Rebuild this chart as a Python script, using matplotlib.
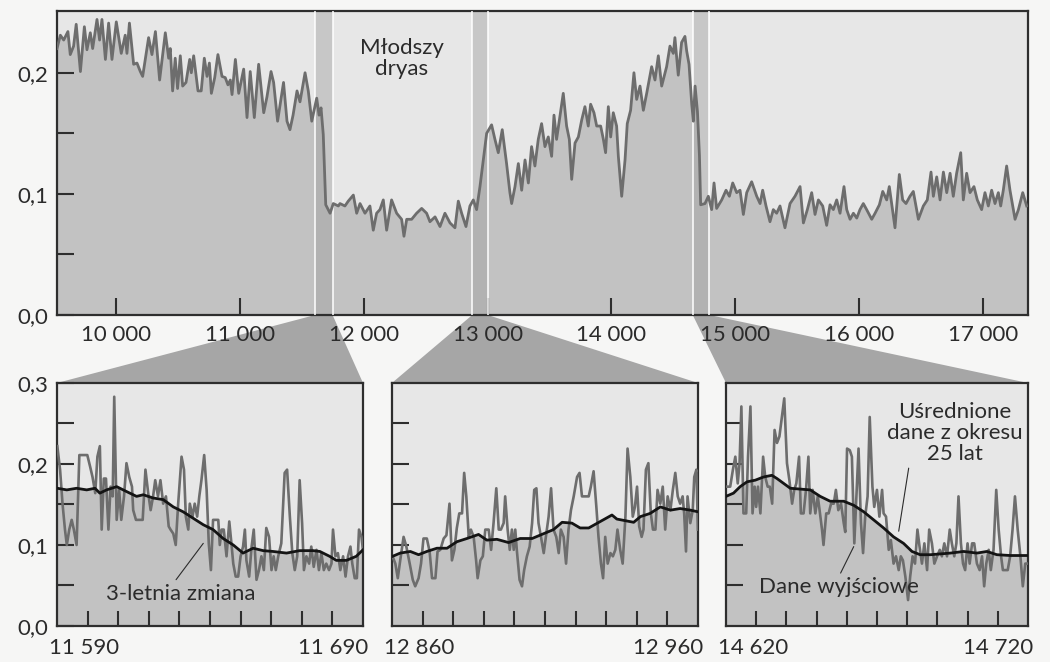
import numpy as np
import matplotlib.pyplot as plt
from matplotlib.patches import Polygon

plt.rcParams['font.family'] = ['Lato', 'DejaVu Sans']

# --- long record (years BP, dust index) ---
top_years = [9521, 9548, 9575, 9609, 9628, 9655, 9676, 9710, 9742, 9763, 9790, 9809,
             9844, 9865, 9884, 9912, 9938, 9965, 10000, 10040, 10072, 10086, 10106, 10140,
             10167, 10194, 10213, 10261, 10288, 10316, 10350, 10396, 10423, 10436, 10455, 10476,
             10495, 10517, 10536, 10563, 10593, 10606, 10625, 10660, 10686, 10711, 10733, 10752,
             10768, 10795, 10821, 10854, 10880, 10902, 10921, 10935, 10962, 10989, 11029, 11056,
             11082, 11115, 11150, 11191, 11217, 11250, 11271, 11303, 11351, 11379, 11403, 11428,
             11460, 11484, 11525, 11551, 11579, 11619, 11638, 11654, 11672, 11692, 11727, 11753,
             11794, 11807, 11847, 11874, 11915, 11942, 11969, 12009, 12049, 12076, 12103, 12130,
             12157, 12184, 12224, 12265, 12305, 12324, 12346, 12386, 12426, 12467, 12507, 12534,
             12575, 12615, 12655, 12696, 12736, 12763, 12790, 12825, 12857, 12884, 12911, 12938,
             12965, 12992, 13032, 13059, 13086, 13118, 13153, 13180, 13194, 13221, 13248, 13275,
             13302, 13329, 13355, 13382, 13409, 13436, 13463, 13490, 13517, 13536, 13557, 13584,
             13611, 13638, 13660, 13679, 13706, 13733, 13760, 13786, 13813, 13832, 13859, 13881,
             13913, 13935, 13953, 13975, 13994, 14015, 14042, 14056, 14083, 14110, 14128, 14155,
             14182, 14204, 14231, 14258, 14285, 14325, 14352, 14379, 14406, 14446, 14473, 14500,
             14513, 14540, 14567, 14594, 14608, 14627, 14649, 14662, 14676, 14695, 14711, 14721,
             14756, 14783, 14810, 14829, 14850, 14891, 14926, 14953, 14980, 15012, 15039, 15066,
             15093, 15133, 15174, 15201, 15222, 15249, 15281, 15308, 15335, 15362, 15402, 15443,
             15483, 15524, 15551, 15583, 15618, 15645, 15672, 15707, 15739, 15766, 15793, 15820,
             15847, 15879, 15901, 15928, 15955, 15982, 16008, 16035, 16062, 16103, 16130, 16165,
             16192, 16224, 16245, 16264, 16291, 16326, 16353, 16380, 16412, 16439, 16480, 16520,
             16552, 16582, 16601, 16628, 16655, 16682, 16709, 16736, 16762, 16789, 16822, 16843,
             16870, 16897, 16929, 16956, 16991, 17018, 17045, 17072, 17099, 17126, 17145, 17166,
             17193, 17220, 17261, 17288, 17323, 17355]
top_vals = [0.220, 0.231, 0.227, 0.234, 0.215, 0.222, 0.240, 0.201, 0.238, 0.219, 0.233, 0.220,
            0.244, 0.227, 0.244, 0.211, 0.241, 0.211, 0.242, 0.216, 0.231, 0.216, 0.241, 0.207,
            0.208, 0.201, 0.197, 0.229, 0.215, 0.234, 0.194, 0.233, 0.212, 0.220, 0.185, 0.212,
            0.187, 0.214, 0.189, 0.192, 0.211, 0.200, 0.214, 0.185, 0.185, 0.212, 0.197, 0.208,
            0.183, 0.196, 0.215, 0.197, 0.196, 0.190, 0.194, 0.182, 0.211, 0.183, 0.203, 0.163,
            0.201, 0.163, 0.207, 0.167, 0.180, 0.201, 0.192, 0.160, 0.192, 0.160, 0.153, 0.165,
            0.185, 0.176, 0.200, 0.185, 0.160, 0.179, 0.165, 0.171, 0.149, 0.091, 0.084, 0.092,
            0.090, 0.092, 0.090, 0.094, 0.099, 0.084, 0.092, 0.084, 0.090, 0.070, 0.084, 0.087,
            0.095, 0.070, 0.095, 0.084, 0.079, 0.065, 0.079, 0.079, 0.084, 0.088, 0.084, 0.077,
            0.081, 0.073, 0.084, 0.076, 0.072, 0.094, 0.084, 0.073, 0.090, 0.095, 0.087, 0.106,
            0.128, 0.150, 0.157, 0.145, 0.134, 0.153, 0.125, 0.101, 0.092, 0.106, 0.125, 0.103,
            0.128, 0.109, 0.139, 0.123, 0.145, 0.158, 0.139, 0.147, 0.131, 0.165, 0.145, 0.164,
            0.183, 0.156, 0.145, 0.112, 0.142, 0.147, 0.161, 0.172, 0.156, 0.174, 0.167, 0.156,
            0.156, 0.145, 0.134, 0.172, 0.147, 0.167, 0.156, 0.131, 0.098, 0.128, 0.158, 0.169,
            0.200, 0.178, 0.189, 0.169, 0.183, 0.205, 0.194, 0.214, 0.189, 0.205, 0.222, 0.216,
            0.229, 0.198, 0.225, 0.230, 0.218, 0.207, 0.174, 0.160, 0.189, 0.168, 0.132, 0.091,
            0.092, 0.098, 0.087, 0.109, 0.088, 0.095, 0.103, 0.098, 0.109, 0.101, 0.103, 0.083,
            0.101, 0.110, 0.098, 0.092, 0.103, 0.090, 0.077, 0.087, 0.084, 0.090, 0.072, 0.092,
            0.098, 0.106, 0.076, 0.087, 0.101, 0.083, 0.095, 0.090, 0.074, 0.091, 0.087, 0.095,
            0.084, 0.106, 0.087, 0.079, 0.084, 0.080, 0.087, 0.092, 0.087, 0.079, 0.084, 0.091,
            0.102, 0.095, 0.106, 0.092, 0.072, 0.116, 0.095, 0.092, 0.098, 0.102, 0.079, 0.090,
            0.095, 0.118, 0.098, 0.114, 0.095, 0.118, 0.101, 0.117, 0.098, 0.117, 0.134, 0.095,
            0.117, 0.101, 0.106, 0.095, 0.087, 0.101, 0.090, 0.103, 0.092, 0.101, 0.090, 0.103,
            0.123, 0.103, 0.079, 0.087, 0.101, 0.090]

# highlighted intervals on the long record
band_lo = [11607, 12876, 14657]
band_hi = [11747, 13000, 14791]

# --- annual detail: three 100-year windows ---
win_lo = [11590, 12860, 14620]
win_hi = [11690, 12960, 14720]

raw1_years = [11590.1, 11591.0, 11591.8, 11592.6, 11593.2, 11594.0, 11594.8, 11595.5, 11596.4,
              11597.3, 11598.6, 11599.9, 11600.8, 11601.6, 11602.5, 11603.2, 11604.0, 11604.6,
              11605.3, 11606.0, 11606.8, 11607.5, 11608.2, 11608.7, 11609.5, 11610.3, 11611.0,
              11611.9, 11612.7, 11613.6, 11614.5, 11614.9, 11615.8, 11616.9, 11618.0, 11618.9,
              11619.8, 11620.6, 11621.4, 11622.1, 11623.0, 11623.8, 11624.7, 11625.6, 11626.5,
              11627.1, 11628.0, 11628.8, 11629.6, 11630.7, 11631.5, 11632.1, 11632.9, 11633.4,
              11634.3, 11635.0, 11635.8, 11636.5, 11637.2, 11638.1, 11638.9, 11639.6, 11640.3,
              11641.0, 11641.9, 11642.7, 11643.2, 11643.8, 11644.5, 11645.4, 11646.3, 11647.0,
              11647.6, 11648.4, 11649.2, 11650.0, 11650.8, 11651.4, 11651.9, 11652.8, 11653.6,
              11654.3, 11655.2, 11656.0, 11656.8, 11657.6, 11658.4, 11659.3, 11660.1, 11660.8,
              11661.5, 11662.3, 11663.3, 11664.4, 11665.2, 11666.1, 11666.9, 11667.7, 11668.5,
              11669.3, 11670.1, 11670.7, 11671.5, 11672.4, 11673.1, 11673.9, 11674.8, 11675.6,
              11676.4, 11677.2, 11678.0, 11678.9, 11679.7, 11680.2, 11681.0, 11681.8, 11682.6,
              11683.5, 11684.3, 11685.1, 11685.9, 11686.5, 11687.3, 11688.0, 11688.7, 11689.5,
              11690.0]
raw1_vals = [0.222, 0.193, 0.151, 0.119, 0.100, 0.119, 0.131, 0.119, 0.100,
             0.211, 0.211, 0.211, 0.197, 0.184, 0.164, 0.209, 0.222, 0.119,
             0.182, 0.182, 0.119, 0.172, 0.160, 0.283, 0.131, 0.168, 0.131,
             0.160, 0.201, 0.184, 0.172, 0.143, 0.131, 0.131, 0.131, 0.193,
             0.164, 0.143, 0.160, 0.180, 0.160, 0.180, 0.151, 0.160, 0.123,
             0.119, 0.114, 0.100, 0.151, 0.209, 0.193, 0.135, 0.119, 0.151,
             0.135, 0.151, 0.135, 0.160, 0.180, 0.211, 0.168, 0.102, 0.069,
             0.131, 0.131, 0.131, 0.100, 0.119, 0.119, 0.086, 0.129, 0.102,
             0.077, 0.061, 0.061, 0.086, 0.098, 0.119, 0.081, 0.061, 0.098,
             0.119, 0.057, 0.069, 0.086, 0.069, 0.121, 0.110, 0.069, 0.086,
             0.069, 0.086, 0.102, 0.189, 0.193, 0.135, 0.090, 0.069, 0.086,
             0.180, 0.127, 0.069, 0.086, 0.077, 0.098, 0.073, 0.094, 0.069,
             0.090, 0.069, 0.077, 0.069, 0.077, 0.119, 0.086, 0.090, 0.069,
             0.086, 0.061, 0.086, 0.098, 0.077, 0.059, 0.059, 0.119, 0.110,
             0.094]
avg1_years = [11590.1, 11593.2, 11596.4, 11599.7, 11602.4, 11604.0, 11606.2, 11609.5, 11612.7,
              11616.0, 11618.2, 11621.4, 11624.7, 11628.0, 11631.2, 11634.5, 11637.8, 11641.0,
              11644.3, 11647.6, 11650.8, 11654.1, 11657.4, 11660.6, 11665.0, 11669.3, 11673.7,
              11675.9, 11679.1, 11681.3, 11684.6, 11687.8, 11690.0]
avg1_vals = [0.170, 0.168, 0.170, 0.168, 0.170, 0.164, 0.168, 0.172, 0.166,
             0.160, 0.162, 0.158, 0.156, 0.147, 0.141, 0.133, 0.125, 0.119,
             0.108, 0.100, 0.090, 0.096, 0.093, 0.092, 0.090, 0.093, 0.093,
             0.092, 0.086, 0.081, 0.081, 0.086, 0.094]

raw2_years = [12860.2, 12861.1, 12861.9, 12862.7, 12863.8, 12864.7, 12865.8, 12866.8, 12867.6,
              12868.7, 12869.5, 12870.3, 12871.4, 12872.3, 12873.1, 12874.2, 12874.9, 12875.8,
              12876.9, 12877.8, 12878.8, 12879.6, 12880.4, 12881.2, 12882.0, 12882.9, 12883.6,
              12884.3, 12885.1, 12885.8, 12886.7, 12887.5, 12888.0, 12888.9, 12889.7, 12890.5,
              12891.6, 12892.4, 12893.2, 12894.1, 12894.9, 12895.6, 12896.5, 12897.0, 12897.8,
              12898.5, 12899.2, 12899.8, 12900.3, 12900.8, 12901.7, 12902.5, 12903.2, 12904.1,
              12905.0, 12905.8, 12906.5, 12907.2, 12907.9, 12908.7, 12909.6, 12910.3, 12911.2,
              12912.0, 12912.8, 12913.7, 12914.5, 12915.2, 12916.1, 12916.9, 12917.7, 12918.5,
              12919.4, 12920.5, 12921.3, 12922.1, 12923.2, 12924.3, 12925.0, 12925.9, 12926.8,
              12927.5, 12928.3, 12929.0, 12929.7, 12930.5, 12931.4, 12932.2, 12933.0, 12933.7,
              12934.6, 12935.4, 12936.3, 12937.0, 12937.9, 12938.7, 12939.4, 12940.1, 12940.8,
              12941.6, 12942.2, 12943.0, 12943.8, 12944.6, 12945.3, 12946.1, 12946.8, 12947.7,
              12948.5, 12949.3, 12950.1, 12951.0, 12951.8, 12952.6, 12953.4, 12954.2, 12955.0,
              12955.5, 12956.1, 12956.6, 12957.5, 12958.3, 12958.8, 12959.5, 12960.0]
raw2_vals = [0.086, 0.077, 0.059, 0.081, 0.110, 0.098, 0.077, 0.057, 0.049,
             0.059, 0.077, 0.108, 0.108, 0.092, 0.059, 0.059, 0.092, 0.094,
             0.108, 0.112, 0.151, 0.081, 0.094, 0.121, 0.139, 0.139, 0.189,
             0.160, 0.110, 0.119, 0.110, 0.081, 0.059, 0.081, 0.086, 0.119,
             0.119, 0.094, 0.127, 0.170, 0.119, 0.119, 0.127, 0.160, 0.119,
             0.094, 0.119, 0.094, 0.119, 0.094, 0.057, 0.049, 0.069, 0.086,
             0.098, 0.127, 0.168, 0.170, 0.127, 0.110, 0.090, 0.110, 0.135,
             0.170, 0.119, 0.110, 0.090, 0.119, 0.110, 0.077, 0.119, 0.143,
             0.160, 0.184, 0.189, 0.160, 0.160, 0.160, 0.172, 0.191, 0.147,
             0.110, 0.077, 0.059, 0.110, 0.077, 0.090, 0.086, 0.094, 0.119,
             0.094, 0.077, 0.135, 0.219, 0.184, 0.135, 0.147, 0.172, 0.123,
             0.110, 0.119, 0.193, 0.201, 0.139, 0.119, 0.119, 0.168, 0.151,
             0.172, 0.119, 0.160, 0.143, 0.168, 0.189, 0.160, 0.151, 0.160,
             0.139, 0.092, 0.160, 0.127, 0.143, 0.184, 0.193, 0.119]
avg2_years = [12860.2, 12862.7, 12866.0, 12868.7, 12871.4, 12874.7, 12878.0, 12881.2, 12884.5,
              12888.3, 12891.0, 12894.3, 12898.1, 12901.9, 12905.8, 12909.6, 12912.8, 12915.6,
              12918.8, 12921.5, 12924.3, 12928.1, 12931.9, 12933.5, 12939.0, 12941.2, 12944.4,
              12947.7, 12951.0, 12954.2, 12957.5, 12960.0]
avg2_vals = [0.086, 0.090, 0.092, 0.088, 0.092, 0.096, 0.096, 0.104, 0.108,
             0.113, 0.106, 0.107, 0.103, 0.108, 0.108, 0.114, 0.119, 0.128,
             0.127, 0.121, 0.121, 0.129, 0.137, 0.132, 0.128, 0.135, 0.139,
             0.147, 0.143, 0.145, 0.143, 0.141]

raw3_years = [14620.3, 14621.4, 14622.3, 14623.1, 14623.9, 14624.5, 14625.1, 14625.8, 14626.7,
              14627.3, 14628.1, 14628.8, 14629.5, 14630.0, 14630.6, 14631.4, 14632.3, 14633.0,
              14633.8, 14634.5, 14635.3, 14636.1, 14636.9, 14637.7, 14638.5, 14639.3, 14640.2,
              14641.0, 14641.9, 14642.6, 14643.3, 14644.2, 14644.8, 14645.7, 14646.5, 14647.3,
              14647.9, 14648.7, 14649.6, 14650.4, 14651.0, 14651.8, 14652.3, 14653.2, 14654.0,
              14654.8, 14655.7, 14656.4, 14657.2, 14658.1, 14659.0, 14659.5, 14660.1, 14661.0,
              14661.7, 14662.5, 14663.2, 14663.9, 14664.7, 14665.4, 14666.1, 14666.9, 14667.6,
              14668.5, 14669.1, 14670.0, 14670.8, 14671.7, 14672.2, 14673.0, 14673.9, 14674.6,
              14675.5, 14676.3, 14677.2, 14677.9, 14678.6, 14679.4, 14680.3, 14681.0, 14681.8,
              14682.6, 14683.4, 14684.1, 14684.9, 14685.7, 14686.6, 14687.3, 14688.2, 14689.0,
              14689.9, 14690.8, 14691.5, 14692.3, 14693.2, 14694.1, 14694.8, 14695.6, 14696.3,
              14697.0, 14697.8, 14698.5, 14699.2, 14700.0, 14700.7, 14701.5, 14702.2, 14703.1,
              14704.0, 14704.8, 14705.5, 14706.2, 14707.0, 14707.7, 14708.6, 14709.5, 14710.3,
              14711.1, 14711.7, 14712.5, 14713.3, 14714.1, 14714.9, 14715.7, 14716.6, 14717.5,
              14718.3, 14719.1, 14720.0]
raw3_vals = [0.172, 0.172, 0.193, 0.209, 0.176, 0.201, 0.271, 0.139, 0.139,
             0.209, 0.271, 0.139, 0.172, 0.147, 0.172, 0.139, 0.209, 0.184,
             0.172, 0.172, 0.151, 0.242, 0.226, 0.234, 0.258, 0.281, 0.201,
             0.180, 0.151, 0.168, 0.176, 0.209, 0.139, 0.139, 0.168, 0.209,
             0.139, 0.168, 0.139, 0.160, 0.143, 0.119, 0.100, 0.139, 0.139,
             0.151, 0.151, 0.168, 0.143, 0.151, 0.127, 0.116, 0.219, 0.217,
             0.209, 0.102, 0.160, 0.219, 0.127, 0.090, 0.135, 0.160, 0.258,
             0.172, 0.147, 0.168, 0.135, 0.168, 0.139, 0.135, 0.094, 0.106,
             0.077, 0.086, 0.069, 0.086, 0.081, 0.061, 0.032, 0.061, 0.086,
             0.077, 0.119, 0.098, 0.077, 0.102, 0.069, 0.119, 0.102, 0.077,
             0.086, 0.094, 0.086, 0.102, 0.086, 0.119, 0.102, 0.086, 0.102,
             0.160, 0.102, 0.077, 0.069, 0.102, 0.077, 0.102, 0.102, 0.077,
             0.069, 0.086, 0.049, 0.077, 0.094, 0.069, 0.094, 0.168, 0.119,
             0.086, 0.069, 0.069, 0.069, 0.086, 0.119, 0.160, 0.119, 0.086,
             0.049, 0.077, 0.077]
avg3_years = [14620.0, 14622.5, 14624.7, 14627.0, 14629.7, 14632.5, 14635.2, 14636.9, 14639.1,
              14641.3, 14644.6, 14647.9, 14651.2, 14654.5, 14659.0, 14662.3, 14665.6, 14668.9,
              14672.2, 14675.5, 14678.8, 14681.6, 14684.3, 14687.7, 14691.0, 14694.3, 14698.7,
              14703.1, 14706.4, 14709.7, 14714.1, 14720.0]
avg3_vals = [0.160, 0.164, 0.172, 0.178, 0.180, 0.184, 0.186, 0.182, 0.176,
             0.170, 0.169, 0.168, 0.160, 0.154, 0.154, 0.149, 0.141, 0.131,
             0.121, 0.110, 0.102, 0.092, 0.088, 0.088, 0.089, 0.090, 0.092,
             0.090, 0.092, 0.088, 0.087, 0.087]

raw_series = [(raw1_years, raw1_vals), (raw2_years, raw2_vals), (raw3_years, raw3_vals)]
avg_series = [(avg1_years, avg1_vals), (avg2_years, avg2_vals), (avg3_years, avg3_vals)]

top_ticks = [10000, 11000, 12000, 13000, 14000, 15000, 16000, 17000]
top_ticklabels = ['10 000', '11 000', '12 000', '13 000', '14 000', '15 000', '16 000', '17 000']

# colours
PAGE = '#f6f6f5'
PANEL = '#e7e7e7'
FILL = '#c2c2c2'
RAW = '#6d6d6d'
AVG = '#141414'
EDGE = '#2e2e2e'
WEDGE = '#a6a6a6'
INK = '#2b2b2b'
FS = 16


def frame(ax):
    ax.set_facecolor(PANEL)
    for s in ax.spines.values():
        s.set_color(EDGE)
        s.set_linewidth(1.6)
    ax.tick_params(which='both', direction='in', color=EDGE, width=1.5,
                   length=12, labelsize=FS, labelcolor=INK)


def fmt_year(y):
    return '{} {:03d}'.format(y // 1000, y % 1000)


fig = plt.figure(figsize=(10.5, 6.62), dpi=100, facecolor=PAGE)

# ---- upper panel: full record ----
top = fig.add_axes([0.0543, 0.5242, 0.9248, 0.4592])
frame(top)
top.fill_between(top_years, top_vals, 0, color=FILL, lw=0, zorder=1)
for lo, hi in zip(band_lo, band_hi):
    top.axvspan(lo, hi, color='#a0a0a0', alpha=0.45, lw=0, zorder=2)
    top.axvline(lo, color='white', lw=1.1, zorder=3)
    top.axvline(hi, color='white', lw=1.1, zorder=3)
top.plot(top_years, top_vals, color=RAW, lw=2.0, zorder=4, solid_joinstyle='round')
top.set_xlim(9521, 17366)
top.set_ylim(0, 0.251)
top.set_xticks(top_ticks)
top.set_xticklabels(top_ticklabels)
top.set_yticks([0, 0.1, 0.2])
top.set_yticklabels(['0,0', '0,1', '0,2'])
top.set_yticks([0.05, 0.15], minor=True)
top.tick_params(axis='x', pad=7)
top.tick_params(axis='y', pad=6)
top.text(12308, 0.212, 'Młodszy\ndryas', ha='center', va='center', fontsize=FS,
         linespacing=1.05, color=INK, zorder=5)

# ---- lower panels: annual detail ----
lefts = [0.0543, 0.3733, 0.6914]
widths = [0.2914, 0.2914, 0.2876]
bottoms = []
for i in range(3):
    ax = fig.add_axes([lefts[i], 0.0544, widths[i], 0.3671])
    frame(ax)
    ry, rv = raw_series[i]
    ay, av = avg_series[i]
    ax.fill_between(ay, av, 0, color=FILL, lw=0, zorder=1)
    ax.plot(ry, rv, color=RAW, lw=1.9, zorder=3, solid_joinstyle='round')
    ax.plot(ay, av, color=AVG, lw=2.0, zorder=4)
    ax.set_xlim(win_lo[i], win_hi[i])
    ax.set_ylim(0, 0.3)
    ax.set_xticks([])
    ax.set_xticks(np.arange(win_lo[i] + 10, win_hi[i], 10), minor=True)
    ax.tick_params(axis='x', which='minor', length=11)
    ax.set_yticks([0.05, 0.15, 0.25], minor=True)
    if i == 0:
        ax.set_yticks([0, 0.1, 0.2, 0.3])
        ax.set_yticklabels(['0,0', '0,1', '0,2', '0,3'])
        ax.tick_params(axis='y', pad=6)
    else:
        ax.set_yticks([0.1, 0.2])
        ax.set_yticklabels([])
    ax.annotate(fmt_year(win_lo[i]), xy=(win_lo[i], 0), xycoords=('data', 'axes fraction'),
                xytext=(-6, -9), textcoords='offset points', ha='left', va='top',
                fontsize=FS, color=INK)
    ax.annotate(fmt_year(win_hi[i]), xy=(win_hi[i], 0), xycoords=('data', 'axes fraction'),
                xytext=(4, -9), textcoords='offset points', ha='right', va='top',
                fontsize=FS, color=INK)
    bottoms.append(ax)

# connectors from the marked bands down to the detail panels
inv = fig.transFigure.inverted()
for lo, hi, ax in zip(band_lo, band_hi, bottoms):
    p_lo = inv.transform(top.transData.transform((lo, 0)))
    p_hi = inv.transform(top.transData.transform((hi, 0)))
    bb = ax.get_position()
    wedge = Polygon([p_lo, p_hi, (bb.x1, bb.y1), (bb.x0, bb.y1)], closed=True,
                    transform=fig.transFigure, facecolor=WEDGE, edgecolor='none', zorder=-1)
    fig.add_artist(wedge)

leader = dict(arrowstyle='-', color=INK, lw=0.8, shrinkA=1, shrinkB=0)
bottoms[0].annotate('3-letnia zmiana', xy=(11637.8, 0.102), xytext=(11630.4, 0.040),
                    ha='center', va='center', fontsize=FS, color=INK, zorder=6,
                    arrowprops=dict(leader, relpos=(0.45, 1.0)))
bottoms[2].annotate('Uśrednione\ndane z okresu\n25 lat', xy=(14677.2, 0.117),
                    xytext=(14695.9, 0.238), ha='center', va='center', fontsize=FS,
                    color=INK, linespacing=1.05, zorder=6,
                    arrowprops=dict(leader, relpos=(0.18, 0.25)))
bottoms[2].annotate('Dane wyjściowe', xy=(14662.3, 0.098), xytext=(14657.3, 0.048),
                    ha='center', va='center', fontsize=FS, color=INK, zorder=6,
                    arrowprops=dict(leader, relpos=(0.5, 1.0)))

fig.savefig('out.png', dpi=100, facecolor=PAGE)
